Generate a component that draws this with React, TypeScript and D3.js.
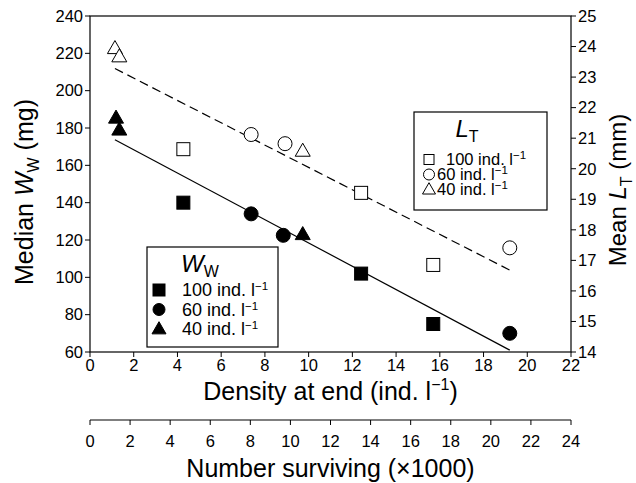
import React from "react";
import * as d3 from "d3";

// density at end (ind. l-1) and values
const wwSquareX = [4.27, 12.4, 15.7];
const wwSquareY = [140, 102, 75];
const wwCircleX = [7.37, 8.84, 19.2];
const wwCircleY = [134, 122.5, 70];
const wwTriangleX = [1.19, 1.34, 9.73];
const wwTriangleY = [185.4, 179, 123];

const ltSquareX = [4.27, 12.4, 15.7];
const ltSquareY = [20.64, 19.21, 16.85];
const ltCircleX = [7.37, 8.92, 19.2];
const ltCircleY = [21.12, 20.82, 17.41];
const ltTriangleX = [1.14, 1.34, 9.73];
const ltTriangleY = [23.94, 23.67, 20.58];

const wwFitX = [1.14, 19.2];
const wwFitY = [173.7, 61];
const ltFitX = [1.14, 19.2];
const ltFitY = [23.28, 16.68];

const densityTicks = d3.range(0, 23, 2);
const survivingTicks = d3.range(0, 25, 2);
const wwTicks = d3.range(60, 241, 20);
const ltTicks = d3.range(14, 26, 1);

const legendLabels = ["100 ind. l", "60 ind. l", "40 ind. l"];

const W = 636;
const H = 483;
const left = 90;
const right = 571;
const top = 16;
const bottom = 352;
const axis2Y = 420;
const font = "Liberation Sans, Arial, Helvetica, sans-serif";

const x = d3.scaleLinear().domain([0, 22]).range([left, right]);
const x2 = d3.scaleLinear().domain([0, 24]).range([left, right]);
const yW = d3.scaleLinear().domain([60, 240]).range([bottom, top]);
const yL = d3.scaleLinear().domain([14, 25]).range([bottom, top]);

const tri = (cx: number, cy: number, s: number) => {
  const h = s * 0.87;
  return `M${cx},${cy - h * 0.6}L${cx + s / 2},${cy + h * 0.4}L${cx - s / 2},${cy + h * 0.4}Z`;
};

function Marker({ kind, cx, cy, filled, size }: any) {
  const fill = filled ? "#000" : "#fff";
  const stroke = "#000";
  if (kind === "square")
    return <rect x={cx - size / 2} y={cy - size / 2} width={size} height={size} fill={fill} stroke={stroke} strokeWidth={1} />;
  if (kind === "circle")
    return <circle cx={cx} cy={cy} r={size / 2} fill={fill} stroke={stroke} strokeWidth={1} />;
  return <path d={tri(cx, cy, size + 2)} fill={fill} stroke={stroke} strokeWidth={1} />;
}

function Points({ xs, ys, y, kind, filled }: any) {
  return (
    <g>
      {xs.map((v: number, i: number) => (
        <Marker key={i} kind={kind} cx={x(v)} cy={y(ys[i])} filled={filled} size={kind === "circle" ? 14 : 13} />
      ))}
    </g>
  );
}

function LegendText({ tx, ty, label, size }: any) {
  return (
    <text x={tx} y={ty} fontSize={size} fontFamily={font}>
      {label}
      <tspan dy={-6} fontSize={11.5}>−1</tspan>
    </text>
  );
}

export default function App() {
  const wwLine = d3.line<number>().x((d, i) => x(wwFitX[i])).y(d => yW(d));
  const ltLine = d3.line<number>().x((d, i) => x(ltFitX[i])).y(d => yL(d));
  const kinds = ["square", "circle", "triangle"];

  return (
    <div style={{ position: "fixed", left: 0, top: 0 }}>
      <svg width={W} height={H} style={{ display: "block", background: "#fff" }}>
        {/* frame */}
        <rect x={left} y={top} width={right - left} height={bottom - top} fill="none" stroke="#000" strokeWidth={1.2} />

        {/* left axis */}
        {wwTicks.map(t => (
          <g key={t}>
            <line x1={left - 5} x2={left} y1={yW(t)} y2={yW(t)} stroke="#000" />
            <text x={left - 7} y={yW(t)} dy="0.35em" textAnchor="end" fontSize={16.5} fontFamily={font}>{t}</text>
          </g>
        ))}
        {/* right axis */}
        {ltTicks.map(t => (
          <g key={t}>
            <line x1={right} x2={right + 5} y1={yL(t)} y2={yL(t)} stroke="#000" />
            <text x={right + 7} y={yL(t)} dy="0.35em" fontSize={16.5} fontFamily={font}>{t}</text>
          </g>
        ))}
        {/* bottom axis */}
        {densityTicks.map(t => (
          <g key={t}>
            <line x1={x(t)} x2={x(t)} y1={bottom} y2={bottom + 5} stroke="#000" />
            <text x={x(t)} y={bottom + 19} textAnchor="middle" fontSize={16.5} fontFamily={font}>{t}</text>
          </g>
        ))}
        <text x={(left + right) / 2} y={400} textAnchor="middle" fontSize={25} fontFamily={font}>
          Density at end (ind. l<tspan dy={-10} fontSize={16}>−1</tspan><tspan dy={10}>)</tspan>
        </text>

        {/* second axis */}
        <line x1={left} x2={right} y1={axis2Y} y2={axis2Y} stroke="#000" strokeWidth={1.2} />
        {survivingTicks.map(t => (
          <g key={t}>
            <line x1={x2(t)} x2={x2(t)} y1={axis2Y} y2={axis2Y + 5} stroke="#000" />
            <text x={x2(t)} y={axis2Y + 27} textAnchor="middle" fontSize={16.5} fontFamily={font}>{t}</text>
          </g>
        ))}
        <text x={(left + right) / 2} y={477} textAnchor="middle" fontSize={25} fontFamily={font}>
          Number surviving (×1000)
        </text>

        {/* y titles */}
        <text transform={`translate(33,${(top + bottom) / 2 + 8}) rotate(-90)`} textAnchor="middle" fontSize={25} fontFamily={font}>
          Median <tspan fontStyle="italic">W</tspan><tspan dy={6} fontSize={16}>W</tspan><tspan dy={-6}> (mg)</tspan>
        </text>
        <text transform={`translate(626,${(top + bottom) / 2 + 6}) rotate(-90)`} textAnchor="middle" fontSize={24} fontFamily={font}>
          Mean <tspan fontStyle="italic">L</tspan><tspan dy={6} fontSize={16}>T</tspan><tspan dy={-6}> (mm)</tspan>
        </text>

        {/* fit lines */}
        <path d={ltLine(ltFitY) || ""} fill="none" stroke="#000" strokeWidth={1.2} strokeDasharray="9,5" />
        <path d={wwLine(wwFitY) || ""} fill="none" stroke="#000" strokeWidth={1.2} />

        {/* points */}
        <Points xs={ltSquareX} ys={ltSquareY} y={yL} kind="square" filled={false} />
        <Points xs={ltCircleX} ys={ltCircleY} y={yL} kind="circle" filled={false} />
        <Points xs={ltTriangleX} ys={ltTriangleY} y={yL} kind="triangle" filled={false} />
        <Points xs={wwSquareX} ys={wwSquareY} y={yW} kind="square" filled={true} />
        <Points xs={wwCircleX} ys={wwCircleY} y={yW} kind="circle" filled={true} />
        <Points xs={wwTriangleX} ys={wwTriangleY} y={yW} kind="triangle" filled={true} />

        {/* L_T legend */}
        <rect x={414} y={112} width={133} height={98} fill="#fff" stroke="#000" strokeWidth={1.2} />
        <text x={467} y={137} textAnchor="middle" fontSize={24} fontFamily={font}>
          <tspan fontStyle="italic">L</tspan><tspan dy={5} fontSize={16}>T</tspan>
        </text>
        {kinds.map((k, i) => (
          <g key={k}>
            <Marker kind={k} cx={429} cy={159.5 + i * 15} filled={false} size={k === "square" ? 10 : 11} />
            <LegendText tx={i === 0 ? 446 : 437} ty={165 + i * 15} label={legendLabels[i]} size={16.5} />
          </g>
        ))}

        {/* W_W legend */}
        <rect x={147} y={247} width={131} height={100} fill="#fff" stroke="#000" strokeWidth={1.2} />
        <text x={200} y={272} textAnchor="middle" fontSize={24} fontFamily={font}>
          <tspan fontStyle="italic">W</tspan><tspan dy={5} fontSize={16}>W</tspan>
        </text>
        {kinds.map((k, i) => (
          <g key={k}>
            <Marker kind={k} cx={159} cy={290 + i * 19.5} filled={true} size={12} />
            <LegendText tx={182} ty={296 + i * 19.5} label={legendLabels[i]} size={18} />
          </g>
        ))}
      </svg>
    </div>
  );
}
